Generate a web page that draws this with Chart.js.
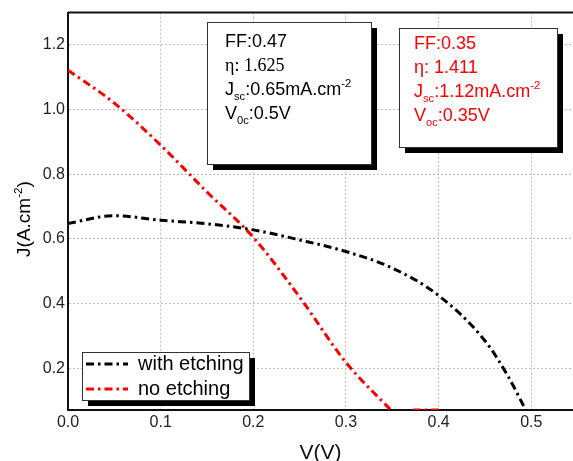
<!DOCTYPE html>
<html>
<head>
<meta charset="utf-8">
<script src="https://cdn.jsdelivr.net/npm/chart.js@4.4.1/dist/chart.umd.min.js"></script>
<style>
  html, body { margin: 0; padding: 0; background: #fff; }
  canvas { display: block; }
</style>
</head>
<body>
<canvas id="jv" width="573" height="461"></canvas>
<script>
// data
const seriesNames = ['with etching', 'no etching'];
const vEtched = [0, 0.05, 0.1, 0.15, 0.2, 0.25, 0.3, 0.35, 0.4, 0.45, 0.475, 0.495];
const jEtched = [0.648, 0.672, 0.658, 0.647, 0.628, 0.597, 0.561, 0.51, 0.425, 0.285, 0.175, 0.065];
const vPlain = [0, 0.05, 0.1, 0.15, 0.2, 0.25, 0.3, 0.35, 0.36, 0.372, 0.4];
const jPlain = [1.122, 1.02, 0.89, 0.745, 0.605, 0.42, 0.218, 0.066, null, 0.071, 0.071];

const xTicks = [0, 0.1, 0.2, 0.3, 0.4, 0.5];
const yTicks = [0.2, 0.4, 0.6, 0.8, 1.0, 1.2];

// text of the two parameter boxes: [text, 'n'|'sub'|'sup', serif?]
const etchedParams = [
  [['FF:0.47', 'n']],
  [['η: 1.625', 'n', true]],
  [['J', 'n'], ['sc', 'sub'], [':0.65mA.cm', 'n'], ['-2', 'sup']],
  [['V', 'n'], ['0c', 'sub'], [':0.5V', 'n']]
];
const plainParams = [
  [['FF:0.35', 'n']],
  [['η: 1.411', 'n']],
  [['J', 'n'], ['sc', 'sub'], [':1.12mA.cm', 'n'], ['-2', 'sup']],
  [['V', 'n'], ['oc', 'sub'], [':0.35V', 'n']]
];

const SANS = '"Liberation Sans", Arial, sans-serif';
const SERIF = '"Liberation Serif", "Times New Roman", serif';

function toPoints( xs, ys ) {
  return xs.map( ( x, i ) => ({ x: x, y: ys[i] }) );
}

function drawRuns( ctx, x, y, runs, size, color ) {
  ctx.fillStyle = color;
  ctx.textBaseline = 'alphabetic';
  ctx.textAlign = 'left';
  for ( const [text, mode, serif] of runs ) {
    const small = mode !== 'n';
    const fs = small ? size * 0.62 : size;
    ctx.font = fs + 'px ' + ( serif ? SERIF : SANS );
    let dy = 0;
    if ( mode === 'sub' ) dy = size * 0.3;
    if ( mode === 'sup' ) dy = -size * 0.42;
    ctx.fillText( text, x, y + dy );
    x += ctx.measureText( text ).width;
  }
  return x;
}

function shadowBox( ctx, x, y, w, h ) {
  ctx.fillStyle = '#000';
  ctx.fillRect( x + 6, y + 6, w, h );
  ctx.fillStyle = '#fff';
  ctx.fillRect( x, y, w, h );
  ctx.strokeStyle = '#333';
  ctx.lineWidth = 1;
  ctx.strokeRect( x + 0.5, y + 0.5, w, h );
}

const decorPlugin = {
  id: 'decor',
  afterDatasetsDraw( chart ) {
    const ctx = chart.ctx;
    const area = chart.chartArea;
    ctx.save();

    // frame top line
    ctx.strokeStyle = '#111';
    ctx.lineWidth = 2;
    ctx.beginPath();
    ctx.moveTo( area.left, area.top );
    ctx.lineTo( area.right, area.top );
    ctx.stroke();

    // parameter boxes
    shadowBox( ctx, 207, 22, 164, 142 );
    etchedParams.forEach( ( line, i ) => drawRuns( ctx, 225, 47 + i * 24, line, 18, '#000' ) );

    shadowBox( ctx, 399, 28, 158, 119 );
    plainParams.forEach( ( line, i ) => drawRuns( ctx, 414, 49 + i * 24, line, 18, '#ff0000' ) );

    // legend
    shadowBox( ctx, 82, 352, 167, 48 );
    chart.data.datasets.forEach( ( ds, i ) => {
      const ly = 364 + i * 25;
      ctx.strokeStyle = ds.borderColor;
      ctx.lineWidth = ds.borderWidth;
      ctx.setLineDash( ds.borderDash );
      ctx.beginPath();
      ctx.moveTo( 86, ly );
      ctx.lineTo( 128, ly );
      ctx.stroke();
      ctx.setLineDash( [] );
      ctx.fillStyle = '#000';
      ctx.font = '20px ' + SANS;
      ctx.textBaseline = 'middle';
      ctx.fillText( ds.label, 138, ly );
    });

    // y axis title with superscript
    ctx.translate( 23, 219 );
    ctx.rotate( -Math.PI / 2 );
    const parts = [['J(A.cm', 'n'], ['-2', 'sup'], [')', 'n']];
    let w = 0;
    for ( const [t, m] of parts ) {
      ctx.font = ( m === 'n' ? 19 : 19 * 0.62 ) + 'px ' + SANS;
      w += ctx.measureText( t ).width;
    }
    drawRuns( ctx, -w / 2, 7, parts, 19, '#000' );

    ctx.restore();
  }
};

new Chart( document.getElementById('jv'), {
  type: 'scatter',
  data: {
    datasets: [
      {
        label: seriesNames[0],
        data: toPoints( vEtched, jEtched ),
        showLine: true,
        borderColor: '#000000',
        borderWidth: 3,
        borderDash: [8, 4, 2.5, 4],
        pointRadius: 0,
        cubicInterpolationMode: 'monotone',
        fill: false
      },
      {
        label: seriesNames[1],
        data: toPoints( vPlain, jPlain ),
        showLine: true,
        spanGaps: false,
        borderColor: '#ff0000',
        borderWidth: 3,
        borderDash: [8, 4, 2.5, 4],
        pointRadius: 0,
        cubicInterpolationMode: 'monotone',
        fill: false
      }
    ]
  },
  options: {
    responsive: false,
    animation: false,
    layout: { padding: { top: 12, right: 0, left: 0, bottom: 0 } },
    plugins: {
      legend: { display: false },
      tooltip: { enabled: false }
    },
    scales: {
      x: {
        type: 'linear',
        min: 0,
        max: 0.545,
        afterFit: ( s ) => { s.height = 51; },
        afterBuildTicks: ( s ) => { s.ticks = xTicks.map( v => ({ value: v }) ); },
        ticks: {
          padding: 3,
          color: '#222',
          font: { family: SANS, size: 16 },
          callback: ( v ) => Number( v ).toFixed( 1 )
        },
        grid: { color: '#bdbdbd', drawTicks: false, lineWidth: 1 },
        border: { color: '#111', width: 2, dash: [2, 2] },
        title: { display: true, text: 'V(V)', color: '#111', font: { family: SANS, size: 21 }, padding: { top: 0, bottom: -5 } }
      },
      y: {
        type: 'linear',
        min: 0.071,
        max: 1.3,
        afterFit: ( s ) => { s.width = 68; },
        afterBuildTicks: ( s ) => { s.ticks = yTicks.map( v => ({ value: v }) ); },
        ticks: {
          padding: 3,
          color: '#222',
          font: { family: SANS, size: 16 },
          callback: ( v ) => Number( v ).toFixed( 1 )
        },
        grid: { color: '#bdbdbd', drawTicks: false, lineWidth: 1 },
        border: { color: '#111', width: 2, dash: [2, 2] }
      }
    }
  },
  plugins: [decorPlugin]
});
</script>
</body>
</html>
